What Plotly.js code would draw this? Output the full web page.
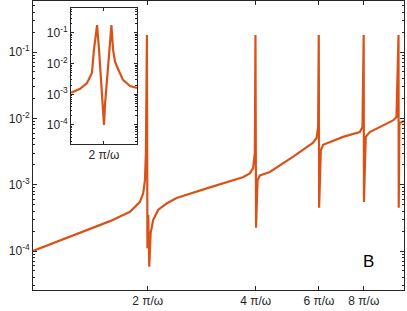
<!DOCTYPE html>
<html>
<head>
<meta charset="utf-8">
<script src="https://cdn.plot.ly/plotly-3.0.1.min.js"></script>
<style>html,body{margin:0;padding:0;background:#fff;}#chart{width:407px;height:311px;}</style>
</head>
<body>
<div id="chart"></div>
<script>
// Main trace: x in units of pi/omega, y response magnitude
const mainX = [0.959, 1.140, 1.382, 1.571, 1.786, 1.904, 1.944, 1.966, 1.978, 1.991, 1.997, 2.008, 2.021, 2.039, 2.073, 2.141, 2.259, 2.408, 2.981, 3.683, 3.852, 3.934, 3.977, 3.993, 4.008, 4.047, 4.107, 4.379, 5.074, 5.768, 5.906, 5.967, 5.992, 6.006, 6.071, 6.161, 7.002, 7.794, 7.930, 7.992, 8.006, 8.099, 8.309, 9.649, 9.862, 9.992, 10.006, 10.05, 10.35];
const mainY = [1.0e-4, 1.45e-4, 2.14e-4, 2.82e-4, 3.89e-4, 5.5e-4, 7.4e-4, 1.17e-3, 3.0e-3, 0.18, 1.1e-4, 3.5e-4, 5.8e-5, 1.86e-4, 2.95e-4, 4.2e-4, 5.2e-4, 6.3e-4, 9.1e-4, 1.29e-3, 1.48e-3, 1.78e-3, 3.0e-3, 0.18, 2.24e-4, 1.17e-3, 1.38e-3, 1.55e-3, 2.63e-3, 4.27e-3, 5.0e-3, 7.4e-3, 0.18, 4.5e-4, 3.3e-3, 4.0e-3, 5.25e-3, 6.2e-3, 7.4e-3, 0.18, 5.5e-4, 5.25e-3, 6.2e-3, 9.3e-3, 1.05e-2, 0.18, 4.5e-4, 8.5e-3, 9.1e-3];

// Inset trace: zoom around 2*pi/omega
const insetX = [1.98, 1.9855, 1.9897, 1.9927, 1.9939, 1.9958, 1.9970, 1.9982, 1.9994, 2.0, 2.0006, 2.0018, 2.0036, 2.0045, 2.0055, 2.0067, 2.0079, 2.0115, 2.0158, 2.02];
const insetY = [1.12e-3, 1.51e-3, 2.34e-3, 5.0e-3, 2.8e-2, 0.18, 2.8e-2, 2.95e-3, 4.5e-4, 1.0e-4, 4.5e-4, 2.95e-3, 2.8e-2, 0.18, 2.8e-2, 1.15e-2, 7.9e-3, 2.95e-3, 1.86e-3, 1.62e-3];

const xTickVals = [2, 4, 6, 8];
const xTickText = ['2 π/ω', '4 π/ω', '6 π/ω', '8 π/ω'];
const yTickVals = [1e-4, 1e-3, 1e-2, 1e-1];
const yTickText = ['10<sup>-4</sup>', '10<sup>-3</sup>', '10<sup>-2</sup>', '10<sup>-1</sup>'];
const insetXTickVals = [2];
const insetXTickText = ['2 π/ω'];

// minor tick positions for log axes (2..9 x 10^k)
const minorVals = [];
for (let k = -5; k <= 0; k++) for (let m = 2; m <= 9; m++) minorVals.push(m * Math.pow(10, k));

const color = '#D95319';
const axColor = '#262626';
const font = {family: 'Liberation Sans, Arial, sans-serif', size: 12, color: '#262626'};

const traces = [
  {x: mainX, y: mainY, type: 'scatter', mode: 'lines', line: {color: color, width: 2.2}, xaxis: 'x', yaxis: 'y', hoverinfo: 'skip'},
  {x: insetX, y: insetY, type: 'scatter', mode: 'lines', line: {color: color, width: 2.2}, xaxis: 'x2', yaxis: 'y2', hoverinfo: 'skip'},
  {x: [], y: [], type: 'scatter', mode: 'lines', xaxis: 'x', yaxis: 'y3', hoverinfo: 'skip'},
  {x: [], y: [], type: 'scatter', mode: 'lines', xaxis: 'x2', yaxis: 'y4', hoverinfo: 'skip'}
];

const commonAxis = {
  showline: true, linecolor: axColor, linewidth: 1, mirror: 'ticks',
  ticks: 'inside', tickcolor: axColor, tickwidth: 1, showgrid: false, zeroline: false,
  tickfont: font
};

const mainYRange = [-4.588, -0.231];
const insetYRange = [-4.62, -0.186];

const layout = {
  width: 407, height: 311,
  margin: {l: 33, r: 3, t: 1, b: 21},
  paper_bgcolor: '#fff', plot_bgcolor: '#fff',
  showlegend: false,
  font: font,
  xaxis: Object.assign({}, commonAxis, {
    type: 'log', range: [Math.log10(0.959), Math.log10(10.35)],
    tickmode: 'array', tickvals: xTickVals, ticktext: xTickText, ticklen: 4, domain: [0, 1], anchor: 'y'
  }),
  yaxis: Object.assign({}, commonAxis, {
    type: 'log', range: mainYRange,
    tickmode: 'array', tickvals: yTickVals, ticktext: yTickText, ticklen: 4, domain: [0, 1], anchor: 'x'
  }),
  yaxis3: Object.assign({}, commonAxis, {
    type: 'log', range: mainYRange, overlaying: 'y', anchor: 'x',
    tickmode: 'array', tickvals: minorVals, ticklen: 2, showticklabels: false
  }),
  xaxis2: Object.assign({}, commonAxis, {
    type: 'linear', range: [1.98, 2.02],
    tickmode: 'array', tickvals: insetXTickVals, ticktext: insetXTickText, ticklen: 3,
    domain: [0.1024, 0.2803], anchor: 'y2'
  }),
  yaxis2: Object.assign({}, commonAxis, {
    type: 'log', range: insetYRange,
    tickmode: 'array', tickvals: yTickVals, ticktext: yTickText, ticklen: 3,
    domain: [0.5052, 0.9758], anchor: 'x2'
  }),
  yaxis4: Object.assign({}, commonAxis, {
    type: 'log', range: insetYRange, overlaying: 'y2', anchor: 'x2',
    domain: [0.5052, 0.9758],
    tickmode: 'array', tickvals: minorVals, ticklen: 1.5, showticklabels: false
  }),
  annotations: [
    {text: 'B', xref: 'paper', yref: 'paper', x: 0.903, y: 0.097, xanchor: 'center', yanchor: 'middle', showarrow: false,
     font: {family: 'Liberation Sans, Arial, sans-serif', size: 17, color: '#000'}}
  ]
};

Plotly.newPlot('chart', traces, layout, {staticPlot: true, displayModeBar: false});
</script>
</body>
</html>
